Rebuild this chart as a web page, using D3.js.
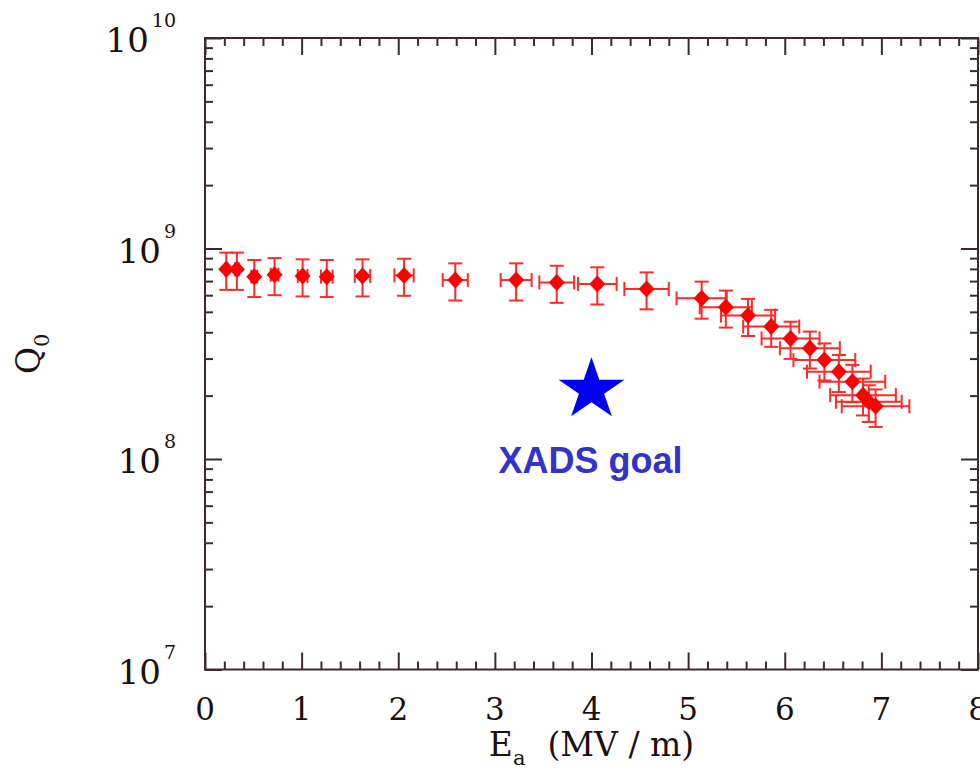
<!DOCTYPE html>
<html>
<head>
<meta charset="utf-8">
<script src="https://cdnjs.cloudflare.com/ajax/libs/d3/7.8.5/d3.min.js"></script>
<style>
  body { margin: 0; background: #ffffff; }
  svg { display: block; }
</style>
</head>
<body>
<div id="chart"></div>
<script>
// accelerating field Ea (MV/m) and its error
var fieldE   = [0.22, 0.33, 0.51, 0.72, 1.01, 1.26, 1.63, 2.06, 2.59, 3.22, 3.64, 4.06, 4.57,
                5.14, 5.39, 5.62, 5.86, 6.06, 6.26, 6.41, 6.56, 6.70, 6.81, 6.87, 6.94];
var fieldErr = [0.01, 0.02, 0.03, 0.04, 0.05, 0.06, 0.08, 0.10, 0.13, 0.16, 0.18, 0.20, 0.23,
                0.26, 0.27, 0.28, 0.29, 0.30, 0.31, 0.32, 0.33, 0.34, 0.34, 0.34, 0.35];
// quality factor Q0 (x 1e8) and its error
var q0       = [7.96, 7.96, 7.35, 7.50, 7.40, 7.35, 7.40, 7.45, 7.08, 7.08, 6.90, 6.78, 6.42,
                5.80, 5.26, 4.80, 4.26, 3.74, 3.36, 2.95, 2.60, 2.33, 2.01, 1.87, 1.78];
var q0Err    = [1.60, 1.60, 1.47, 1.50, 1.48, 1.47, 1.48, 1.49, 1.42, 1.42, 1.38, 1.36, 1.28,
                1.16, 1.05, 0.96, 0.85, 0.75, 0.67, 0.59, 0.52, 0.47, 0.40, 0.37, 0.36];
// goal marker
var goalE = 4.0, goalQ = 2.13e8, goalLabel = "XADS goal";
// tick labels
var xTicks = [0, 1, 2, 3, 4, 5, 6, 7, 8];
var yExponents = [7, 8, 9, 10];

var W = 980, H = 772;
var axisColor = "#3b2b2b";
var red = "#ff0000";

var svg = d3.select("#chart").append("svg")
            .attr("width", W)
            .attr("height", H);

var x = d3.scaleLinear().domain([0, 8]).range([205, 978]);
var y = d3.scaleLog().domain([1e7, 1e10]).range([669.5, 38]);

// note: "top" is a reserved window property, so use other names
var pLeft = x.range()[0], pRight = x.range()[1],
    pTop = y.range()[1], pBottom = y.range()[0];

// minor ticks
var xMinor = d3.range(0, 8.01, 0.2).filter(function(d) { return Math.abs(d - Math.round(d)) > 0.01; });
var yMinor = [];
yExponents.slice(0, 3).forEach(function(e) {
  for (var m = 2; m <= 9; m++) yMinor.push(m * Math.pow(10, e));
});
var yMajor = yExponents.map(function(e) { return Math.pow(10, e); });

function styleAxis(g) {
  g.select(".domain").remove();
  g.selectAll("line").attr("stroke", axisColor).attr("stroke-width", 2);
  g.selectAll("text").remove();
}

// bottom + top axes (ticks pointing inward)
svg.append("g").attr("transform", "translate(0," + pBottom + ")")
   .call(d3.axisBottom(x).tickValues(xTicks).tickSize(-17)).call(styleAxis);
svg.append("g").attr("transform", "translate(0," + pBottom + ")")
   .call(d3.axisBottom(x).tickValues(xMinor).tickSize(-8)).call(styleAxis);
svg.append("g").attr("transform", "translate(0," + pTop + ")")
   .call(d3.axisTop(x).tickValues(xTicks).tickSize(-17)).call(styleAxis);
svg.append("g").attr("transform", "translate(0," + pTop + ")")
   .call(d3.axisTop(x).tickValues(xMinor).tickSize(-8)).call(styleAxis);

// left + right axes
svg.append("g").attr("transform", "translate(" + pLeft + ",0)")
   .call(d3.axisLeft(y).tickValues(yMajor).tickSize(-17)).call(styleAxis);
svg.append("g").attr("transform", "translate(" + pLeft + ",0)")
   .call(d3.axisLeft(y).tickValues(yMinor).tickSize(-8)).call(styleAxis);
svg.append("g").attr("transform", "translate(" + pRight + ",0)")
   .call(d3.axisRight(y).tickValues(yMajor).tickSize(-17)).call(styleAxis);
svg.append("g").attr("transform", "translate(" + pRight + ",0)")
   .call(d3.axisRight(y).tickValues(yMinor).tickSize(-8)).call(styleAxis);

// frame
svg.append("rect")
   .attr("x", pLeft).attr("y", pTop)
   .attr("width", pRight - pLeft).attr("height", pBottom - pTop)
   .attr("fill", "none")
   .attr("stroke", axisColor)
   .attr("stroke-width", 2);

// x tick labels
svg.append("g").selectAll("text")
   .data(xTicks)
   .enter().append("text")
   .attr("x", function(d) { return x(d); })
   .attr("y", pBottom + 50)
   .attr("text-anchor", "middle")
   .style("font-family", "'DejaVu Serif', serif")
   .style("font-size", "31px")
   .attr("fill", "#1a1212")
   .text(function(d) { return d; });

// y tick labels 10^n
var yLab = svg.append("g").selectAll("text")
   .data(yExponents)
   .enter().append("text")
   .attr("x", pLeft - 29)
   .attr("y", function(d) { return y(Math.pow(10, d)) + 14; })
   .attr("text-anchor", "end")
   .style("font-family", "'DejaVu Serif', serif")
   .style("font-size", "34px")
   .attr("fill", "#1a1212")
   .text("10");
yLab.append("tspan")
   .attr("dx", 3)
   .attr("dy", -25)
   .style("font-size", "19px")
   .text(function(d) { return d; });

// axis titles
var xTitle = svg.append("text")
   .attr("x", (pLeft + pRight) / 2)
   .attr("y", 756)
   .attr("text-anchor", "middle")
   .style("font-family", "'DejaVu Serif', serif")
   .style("font-size", "33px")
   .attr("fill", "#1a1212")
   .text("E");
xTitle.append("tspan").attr("dy", 9).style("font-size", "21px").text("a");
xTitle.append("tspan").attr("dy", -9).attr("dx", 22).text("(MV / m)");

var yTitle = svg.append("text")
   .attr("transform", "translate(40," + (pTop + pBottom) / 2 + ") rotate(-90)")
   .attr("text-anchor", "middle")
   .style("font-family", "'DejaVu Serif', serif")
   .style("font-size", "33px")
   .attr("fill", "#1a1212")
   .text("Q");
yTitle.append("tspan").attr("dy", 9).style("font-size", "21px").text("0");

// data: error bars then markers
var points = fieldE.map(function(e, i) {
  return {e: e, ee: fieldErr[i], q: q0[i] * 1e8, qe: q0Err[i] * 1e8};
});

var bars = svg.append("g")
   .attr("stroke", "#ff2a2a")
   .attr("stroke-width", 2)
   .attr("fill", "none");

points.forEach(function(d) {
  var cx = x(d.e), cy = y(d.q);
  var y1 = y(d.q + d.qe), y2 = y(d.q - d.qe);
  var x1 = x(d.e - d.ee), x2 = x(d.e + d.ee);
  var cap = 7;
  // vertical bar + caps
  bars.append("line").attr("x1", cx).attr("x2", cx).attr("y1", y1).attr("y2", y2);
  bars.append("line").attr("x1", cx - cap).attr("x2", cx + cap).attr("y1", y1).attr("y2", y1);
  bars.append("line").attr("x1", cx - cap).attr("x2", cx + cap).attr("y1", y2).attr("y2", y2);
  // horizontal bar + caps
  bars.append("line").attr("x1", x1).attr("x2", x2).attr("y1", cy).attr("y2", cy);
  bars.append("line").attr("x1", x1).attr("x2", x1).attr("y1", cy - cap).attr("y2", cy + cap);
  bars.append("line").attr("x1", x2).attr("x2", x2).attr("y1", cy - cap).attr("y2", cy + cap);
});

svg.append("g").selectAll("path")
   .data(points)
   .enter().append("path")
   .attr("d", "M0,-8.5L8,0L0,8.5L-8,0Z")
   .attr("transform", function(d) { return "translate(" + x(d.e) + "," + y(d.q) + ")"; })
   .attr("fill", red);

// goal star and label
svg.append("path")
   .attr("d", d3.symbol(d3.symbolStar).size(1200)())
   .attr("transform", "translate(" + x(goalE) + "," + y(goalQ) + ") scale(1.06,1)")
   .attr("fill", "#0000f0");

svg.append("text")
   .attr("x", x(goalE) - 1)
   .attr("y", 473)
   .attr("text-anchor", "middle")
   .style("font-family", "'Liberation Sans', Arial, sans-serif")
   .style("font-weight", "bold")
   .style("font-size", "36px")
   .attr("fill", "#3333c8")
   .text(goalLabel);
</script>
</body>
</html>
